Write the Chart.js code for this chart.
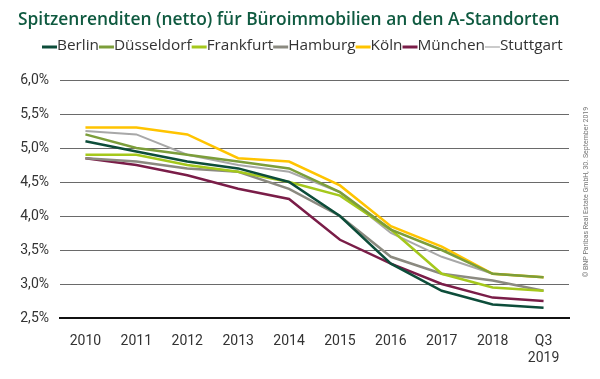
<!DOCTYPE html>
<html>
<head>
<meta charset="utf-8">
<script src="https://cdn.jsdelivr.net/npm/chart.js@4/dist/chart.umd.min.js"></script>
<style>
  html, body { margin: 0; padding: 0; background: #fff; }
  #wrap { width: 600px; height: 379px; }
</style>
</head>
<body>
<div id="wrap"><canvas id="chart" width="600" height="379"></canvas></div>
<script>
// values (percent)
const labels = ['2010', '2011', '2012', '2013', '2014', '2015', '2016', '2017', '2018', ['Q3', '2019']];
const berlin     = [5.10, 4.95, 4.80, 4.70, 4.50, 4.00, 3.30, 2.90, 2.70, 2.65];
const duesseldorf = [5.20, 5.00, 4.90, 4.80, 4.70, 4.35, 3.80, 3.50, 3.15, 3.10];
const frankfurt  = [4.90, 4.90, 4.75, 4.65, 4.50, 4.30, 3.80, 3.15, 2.95, 2.90];
const hamburg    = [4.85, 4.80, 4.70, 4.65, 4.40, 4.00, 3.40, 3.15, 3.05, 2.90];
const koeln      = [5.30, 5.30, 5.20, 4.85, 4.80, 4.45, 3.85, 3.55, 3.15, 3.10];
const muenchen   = [4.85, 4.75, 4.60, 4.40, 4.25, 3.65, 3.30, 3.00, 2.80, 2.75];
const stuttgart  = [5.25, 5.20, 4.90, 4.75, 4.65, 4.35, 3.75, 3.40, 3.15, 3.10];
const yTicks = [2.5, 3.0, 3.5, 4.0, 4.5, 5.0, 5.5, 6.0];

const title = 'Spitzenrenditen (netto) für Büroimmobilien an den A-Standorten';
const copyright = '© BNP Paribas Real Estate GmbH, 30. September 2019';

const mk = (label, data, color, width) => ({
  label: label, data: data, borderColor: color, backgroundColor: color,
  borderWidth: width, pointRadius: 0, tension: 0, fill: false
});

// font size that makes a text fill a given width
const fitSize = (ctx, text, family, weight, width) => {
  ctx.font = weight + ' 20px ' + family;
  return 20 * width / ctx.measureText(text).width;
};

// title, line legend and copyright note
const extras = {
  id: 'extras',
  afterDraw(chart) {
    const ctx = chart.ctx;
    ctx.save();
    ctx.textBaseline = 'middle';
    ctx.textAlign = 'left';
    const ts = fitSize(ctx, title, '"Open Sans"', '600', 542);
    ctx.font = '600 ' + ts.toFixed(2) + 'px "Open Sans"';
    ctx.fillStyle = '#0f5a40';
    ctx.fillText(title, 18, 20);

    const sets = chart.data.datasets;
    const lineW = 15;
    const allText = sets.map(d => d.label).join('');
    const ls = fitSize(ctx, allText, '"Open Sans"', '400', 521 - sets.length * lineW);
    ctx.font = ls.toFixed(2) + 'px "Open Sans"';
    let x = 42;
    const y = 46;
    sets.forEach(d => {
      ctx.strokeStyle = d.borderColor;
      ctx.lineWidth = d.label === 'Stuttgart' ? 1.2 : 3;
      ctx.beginPath();
      ctx.moveTo(x, y + 1);
      ctx.lineTo(x + lineW, y + 1);
      ctx.stroke();
      x += lineW;
      ctx.fillStyle = '#333';
      ctx.fillText(d.label, x, y);
      x += ctx.measureText(d.label).width;
    });

    ctx.translate(586, 192);
    ctx.rotate(-Math.PI / 2);
    ctx.font = '7px Roboto';
    ctx.fillStyle = '#777';
    ctx.textAlign = 'center';
    ctx.fillText(copyright, 0, 0);
    ctx.restore();
  }
};

new Chart(document.getElementById('chart'), {
  type: 'line',
  data: {
    labels: labels,
    datasets: [
      mk('Berlin', berlin, '#0d4d3a', 2.5),
      mk('Düsseldorf', duesseldorf, '#7c9e3a', 2.5),
      mk('Frankfurt', frankfurt, '#a5c81c', 2.5),
      mk('Hamburg', hamburg, '#8b8a80', 2.5),
      mk('Köln', koeln, '#ffc400', 2.5),
      mk('München', muenchen, '#7a1d48', 2.5),
      mk('Stuttgart', stuttgart, '#a8a8a8', 2)
    ]
  },
  options: {
    responsive: false,
    animation: false,
    layout: { padding: { top: 80, right: 31, bottom: 0, left: 0 } },
    plugins: { legend: { display: false }, title: { display: false }, tooltip: { enabled: false } },
    scales: {
      x: {
        offset: true,
        grid: { display: false },
        border: { display: true, color: '#111', width: 2 },
        ticks: { color: '#333', font: { family: 'Roboto', size: 14 }, padding: 7, maxRotation: 0, autoSkip: false },
        afterFit: s => { s.height = 61; }
      },
      y: {
        min: 2.5, max: 6.0,
        afterBuildTicks: s => { s.ticks = yTicks.map(v => ({ value: v })); },
        grid: { color: '#6a6a6a', lineWidth: 1, drawTicks: false },
        border: { display: false },
        ticks: {
          color: '#333', font: { family: 'Roboto', size: 14 }, padding: 11,
          callback: v => v.toFixed(1).replace('.', ',') + '%'
        },
        afterFit: s => { s.width = 60; }
      }
    }
  },
  plugins: [extras]
});
</script>
</body>
</html>
